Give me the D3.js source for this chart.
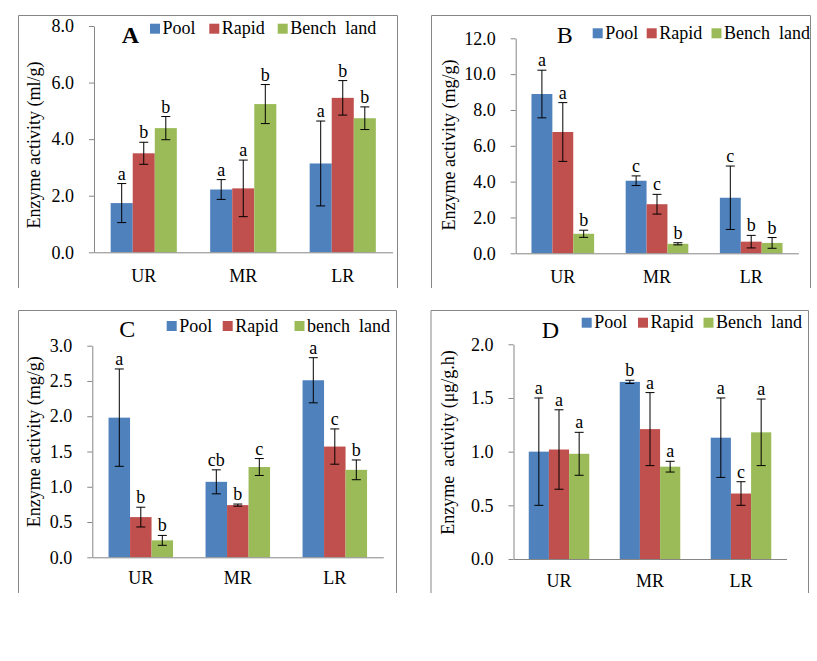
<!DOCTYPE html>
<html>
<head>
<meta charset="utf-8">
<script src="https://cdn.jsdelivr.net/npm/d3@7/dist/d3.min.js"></script>
<style>
  html, body { margin: 0; padding: 0; background: #fff; }
  svg { display: block; font-family: "Liberation Serif", "Times New Roman", serif; }
  text { white-space: pre; }
</style>
</head>
<body>
<svg id="chart" width="817" height="661"></svg>
<script>
// ---------- data ----------
const categories = ["UR", "MR", "LR"];
const seriesNames = ["Pool", "Rapid", "Bench  land"];
const seriesNamesC = ["Pool", "Rapid", "bench  land"];

// Panel A (ml/g)
const aPool = [1.74, 2.22, 3.14];
const aRapid = [3.50, 2.26, 5.46];
const aBench = [4.39, 5.24, 4.74];
const aPoolErr = [0.69, 0.35, 1.50];
const aRapidErr = [0.39, 1.00, 0.61];
const aBenchErr = [0.41, 0.69, 0.40];
const aPoolSig = ["a", "a", "a"];
const aRapidSig = ["b", "a", "b"];
const aBenchSig = ["b", "b", "b"];
const aTicks = [0, 2, 4, 6, 8];

// Panel B (mg/g)
const bPool = [8.89, 4.05, 3.10];
const bRapid = [6.77, 2.74, 0.65];
const bBench = [1.09, 0.53, 0.58];
const bPoolErr = [1.33, 0.27, 1.77];
const bRapidErr = [1.64, 0.55, 0.35];
const bBenchErr = [0.20, 0.06, 0.30];
const bPoolSig = ["a", "c", "c"];
const bRapidSig = ["a", "c", "b"];
const bBenchSig = ["b", "b", "b"];
const bTicks = [0, 2, 4, 6, 8, 10, 12];

// Panel C (mg/g)
const cPool = [1.98, 1.07, 2.51];
const cRapid = [0.57, 0.74, 1.57];
const cBench = [0.24, 1.28, 1.24];
const cPoolErr = [0.69, 0.17, 0.32];
const cRapidErr = [0.14, 0.015, 0.25];
const cBenchErr = [0.07, 0.12, 0.14];
const cPoolSig = ["a", "cb", "a"];
const cRapidSig = ["b", "b", "c"];
const cBenchSig = ["b", "c", "b"];
const cTicks = [0, 0.5, 1.0, 1.5, 2.0, 2.5, 3.0];

// Panel D (µg/g.h)
const dPool = [1.00, 1.65, 1.13];
const dRapid = [1.02, 1.21, 0.61];
const dBench = [0.98, 0.86, 1.18];
const dPoolErr = [0.50, 0.015, 0.37];
const dRapidErr = [0.37, 0.34, 0.11];
const dBenchErr = [0.20, 0.05, 0.31];
const dPoolSig = ["a", "b", "a"];
const dRapidSig = ["a", "a", "c"];
const dBenchSig = ["a", "a", "a"];
const dTicks = [0, 0.5, 1.0, 1.5, 2.0];

const colors = ["#4F81BD", "#C0504D", "#9BBB59"];

// ---------- panels (layout) ----------
const panels = [
  { letter: "A", bold: true, lx: 121.7, ly: 43.3,
    frame: [18.5, 15.5, 397.5, 288], plot: { l: 94, r: 392.5, t: 26, b: 252.3 },
    ticks: aTicks, title: "Enzyme activity (ml/g)", tx: 34, ty: 145, catOff: 17.2,
    names: seriesNames, legX: [150, 209.3, 277.7], legY: 28.7,
    vals: [aPool, aRapid, aBench], errs: [aPoolErr, aRapidErr, aBenchErr], sig: [aPoolSig, aRapidSig, aBenchSig] },
  { letter: "B", bold: false, lx: 556.7, ly: 42.7,
    frame: [431.5, 15.5, 810.5, 288], plot: { l: 515.7, r: 798.3, t: 38.3, b: 253.3 },
    ticks: bTicks, title: "Enzyme activity (mg/g)", tx: 449, ty: 145, catOff: 16.6,
    names: seriesNames, legX: [592.7, 646.7, 711.5], legY: 33.3,
    vals: [bPool, bRapid, bBench], errs: [bPoolErr, bRapidErr, bBenchErr], sig: [bPoolSig, bRapidSig, bBenchSig] },
  { letter: "C", bold: false, lx: 119.3, ly: 336.7,
    frame: [18.5, 310.5, 396.5, 593], plot: { l: 92.3, r: 383.3, t: 345.7, b: 557.3 },
    ticks: cTicks, title: "Enzyme activity (mg/g)", tx: 34, ty: 441.7, catOff: 13.6,
    names: seriesNamesC, legX: [166.7, 222.7, 294.5], legY: 326,
    vals: [cPool, cRapid, cBench], errs: [cPoolErr, cRapidErr, cBenchErr], sig: [cPoolSig, cRapidSig, cBenchSig] },
  { letter: "D", bold: false, lx: 541.7, ly: 338.3,
    frame: [431, 310.5, 808.5, 593], plot: { l: 513.5, r: 786.5, t: 344.3, b: 559 },
    ticks: dTicks, title: "Enzyme  activity (μg/g.h)", tx: 448, ty: 442.5, catOff: 15.2,
    names: seriesNames, legX: [581.7, 638, 703.5], legY: 322.7,
    vals: [dPool, dRapid, dBench], errs: [dPoolErr, dRapidErr, dBenchErr], sig: [dPoolSig, dRapidSig, dBenchSig] }
];

const svg = d3.select("#chart");
svg.append("rect").attr("width", 817).attr("height", 661).attr("fill", "#fff");

const axisColor = "#868686";

panels.forEach(p => {
  const g = svg.append("g");
  const [fx0, fy0, fx1, fy1] = p.frame;
  g.append("path")
    .attr("d", `M${fx0},${fy1}V${fy0}H${fx1}V${fy1}`)
    .attr("fill", "none").attr("stroke", axisColor).attr("stroke-width", 1);

  const ymax = p.ticks[p.ticks.length - 1];
  const y = d3.scaleLinear().domain([0, ymax]).range([p.plot.b, p.plot.t]);
  const x0 = d3.scaleBand().domain(categories).range([p.plot.l, p.plot.r]).paddingInner(0).paddingOuter(0);
  const groupW = x0.bandwidth() * 0.665;
  const x1 = d3.scaleBand().domain(d3.range(3)).range([0, groupW]).padding(0);

  // bars
  p.vals.forEach((vals, si) => {
    vals.forEach((v, ci) => {
      const cat = categories[ci];
      const bx = x0(cat) + (x0.bandwidth() - groupW) / 2 + x1(si);
      g.append("rect")
        .attr("x", bx).attr("y", y(v))
        .attr("width", x1.bandwidth()).attr("height", y(0) - y(v))
        .attr("fill", colors[si]);
    });
  });

  // y axis
  const yAxis = d3.axisLeft(y).tickValues(p.ticks).tickFormat(d3.format(".1f"))
    .tickSize(5).tickSizeOuter(0).tickPadding(15);
  const ya = g.append("g").attr("transform", `translate(${p.plot.l},0)`).call(yAxis);
  ya.select(".domain").attr("stroke", axisColor);
  ya.selectAll(".tick line").attr("stroke", axisColor);
  ya.selectAll("text").attr("font-size", 18).attr("fill", "#000")
    .attr("font-family", "Liberation Serif");

  // x axis
  const xAxis = d3.axisBottom(x0).tickSize(0).tickSizeOuter(0).tickPadding(p.catOff);
  const xa = g.append("g").attr("transform", `translate(0,${p.plot.b})`).call(xAxis);
  xa.select(".domain").attr("stroke", axisColor);
  xa.selectAll("text").attr("font-size", 18).attr("fill", "#000")
    .attr("font-family", "Liberation Serif");

  // error bars + significance letters
  p.vals.forEach((vals, si) => {
    vals.forEach((v, ci) => {
      const cat = categories[ci];
      const cx = x0(cat) + (x0.bandwidth() - groupW) / 2 + x1(si) + x1.bandwidth() / 2;
      const e = p.errs[si][ci];
      const yt = y(v + e), yb = y(v - e);
      g.append("path")
        .attr("d", `M${cx},${yt}V${yb}M${cx - 4.5},${yt}H${cx + 4.5}M${cx - 4.5},${yb}H${cx + 4.5}`)
        .attr("stroke", "#000").attr("stroke-width", 1).attr("fill", "none");
      g.append("text")
        .attr("x", cx).attr("y", yt - 4)
        .attr("text-anchor", "middle").attr("font-size", 18).attr("fill", "#000")
        .text(p.sig[si][ci]);
    });
  });

  // y title
  g.append("text")
    .attr("transform", `translate(${p.tx},${p.ty}) rotate(-90)`)
    .attr("text-anchor", "middle").attr("dy", "0.35em")
    .attr("font-size", 18).attr("fill", "#000")
    .text(p.title);

  // panel letter
  g.append("text")
    .attr("x", p.lx).attr("y", p.ly)
    .attr("font-size", 24).attr("font-weight", p.bold ? "bold" : "normal")
    .attr("fill", "#000").text(p.letter);

  // legend
  p.names.forEach((name, si) => {
    g.append("rect")
      .attr("x", p.legX[si]).attr("y", p.legY - 5)
      .attr("width", 10).attr("height", 10).attr("fill", colors[si]);
    g.append("text")
      .attr("x", p.legX[si] + 12.5).attr("y", p.legY + 5.7)
      .attr("font-size", 18).attr("fill", "#000").text(name);
  });
});
</script>
</body>
</html>
